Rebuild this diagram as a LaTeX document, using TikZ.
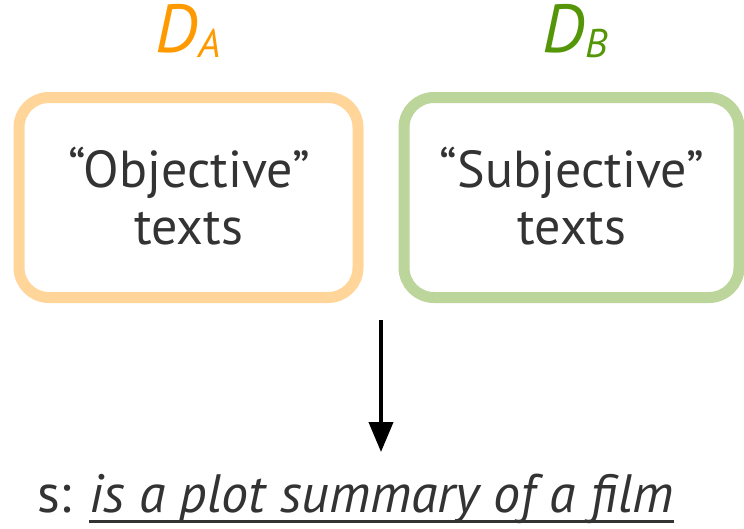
\documentclass[tikz,border=0pt]{standalone}
\usepackage{fontspec}
\setmainfont{PT Sans}
\usetikzlibrary{arrows.meta}
\definecolor{txt}{RGB}{51,51,51}
\definecolor{dorange}{RGB}{255,153,0}
\definecolor{dgreen}{RGB}{84,150,8}
\definecolor{lorange}{RGB}{255,213,153}
\definecolor{lgreen}{RGB}{187,213,154}
\tikzset{
  setbox/.style={draw, line width=11pt, rounded corners=30pt},
  body/.style={text=txt, font=\fontsize{52}{57}\selectfont, align=center, inner sep=0pt},
  dlabel/.style={font=\fontsize{68}{68}\selectfont\itshape, inner sep=0pt, anchor=base}
}
\begin{document}
\begin{tikzpicture}[x=1pt,y=-1pt]
\useasboundingbox (0,0) rectangle (744,528);
\draw[setbox, lorange] (19,97.5) rectangle (358,297.5);
\draw[setbox, lgreen] (404,97.5) rectangle (739,297.5);
\node[body] (objA) at (189,196) {“Objective”\\texts};
\node[body] (objB) at (572,196) {“Subjective”\\texts};
\node[dlabel, text=dorange] (DA) at (188,52) {D\raisebox{-5pt}{\fontsize{40}{40}\selectfont A}};
\node[dlabel, text=dgreen] (DB) at (575,52) {D\raisebox{-5pt}{\fontsize{40}{40}\selectfont B}};
\coordinate (atop) at (381,320);
\coordinate (abot) at (381,452);
\draw[line width=4pt, -{Triangle[length=30pt,width=24pt]}] (atop) -- (abot);
\node[text=txt, font=\fontsize{54}{54}\selectfont, inner sep=0pt, anchor=base west] (s) at (37,512) {s:};
\node[text=txt, font=\fontsize{54}{54}\selectfont\itshape, inner sep=0pt, anchor=base west] (summ) at (89,512) {is a plot summary of a film};
\draw[txt, line width=3pt] ([yshift=-9pt]summ.base west) -- ([yshift=-9pt]summ.base east);
\end{tikzpicture}
\end{document}
